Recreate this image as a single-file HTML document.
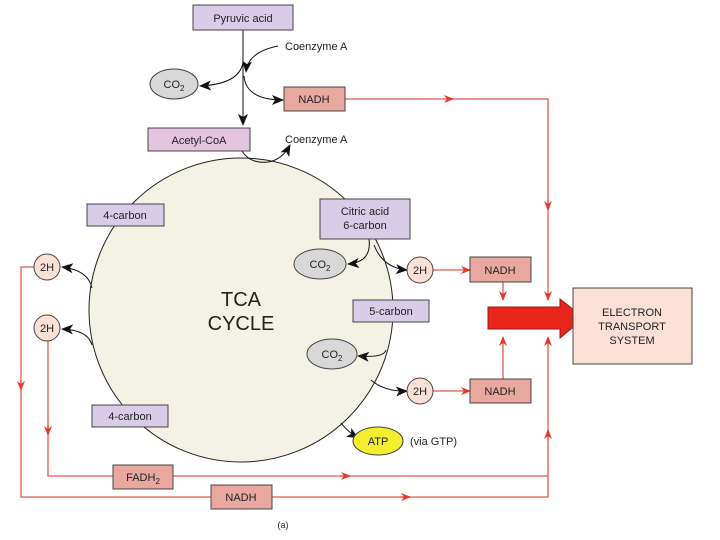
<!DOCTYPE html>
<html><head><style>body{margin:0;background:#fff}svg{display:block}text{font-family:"Liberation Sans",sans-serif;font-size:11px;fill:#222}</style></head><body>
<svg width="720" height="540" viewBox="0 0 720 540" xmlns="http://www.w3.org/2000/svg">
<defs>
<marker id="r" markerWidth="10" markerHeight="8" refX="9" refY="4" orient="auto" markerUnits="userSpaceOnUse"><path d="M0,0 L10,4 L0,8 L3,4z" fill="#e23a2a"/></marker>
<marker id="b" markerWidth="12" markerHeight="10" refX="11" refY="5" orient="auto" markerUnits="userSpaceOnUse"><path d="M0,0 L12,5 L0,10 L3,5z" fill="#111"/></marker>
</defs>
<circle cx="241" cy="310" r="152" fill="#f4f2e4" stroke="#222" stroke-width="1"/>
<text x="241" y="306" text-anchor="middle" style="font-size:20px">TCA</text>
<text x="241" y="330" text-anchor="middle" style="font-size:20px">CYCLE</text>
<g stroke="#e05a4a" stroke-width="1.3" fill="none">
<path d="M345,99 H548 V300"/>
<path d="M452,99 h1" marker-end="url(#r)"/>
<path d="M548,200 v10" marker-end="url(#r)"/>
<path d="M548,295 v5" marker-end="url(#r)"/>
<path d="M34,267 H21 V497 H548 V340"/>
<path d="M21,380 v10" marker-end="url(#r)"/>
<path d="M400,497 h10" marker-end="url(#r)"/>
<path d="M548,440 v-10" marker-end="url(#r)"/>
<path d="M548,345 v-8" marker-end="url(#r)"/>
<path d="M48,341 V476 H548"/>
<path d="M48,425 v10" marker-end="url(#r)"/>
<path d="M340,476 h10" marker-end="url(#r)"/>
<path d="M433,270 H470" marker-end="url(#r)"/>
<path d="M433,391 H470" marker-end="url(#r)"/>
<path d="M503,282 V300" marker-end="url(#r)"/>
<path d="M503,379 V337" marker-end="url(#r)"/>
</g>
<path d="M488,307 H560 V299 L584,318 L560,338 V329 H488z" fill="#e8261c" stroke="#a01810" stroke-width="1"/>
<rect x="573" y="288" width="119" height="76" fill="#fbe0d6" stroke="#444"/>
<text x="632" y="316" text-anchor="middle">ELECTRON</text>
<text x="632" y="330" text-anchor="middle">TRANSPORT</text>
<text x="632" y="344" text-anchor="middle">SYSTEM</text>
<g stroke="#111" stroke-width="1" fill="none">
<path d="M243,30 V125" marker-end="url(#b)"/>
<path d="M278,46 Q248,52 246,72" marker-end="url(#b)"/>
<path d="M243,62 Q240,84 200,86" marker-end="url(#b)"/>
<path d="M244,76 Q246,100 283,100" marker-end="url(#b)"/>
<path d="M242,151 Q250,164 268,162 Q282,160 290,145" marker-end="url(#b)"/>
<path d="M369,239 Q372,262 348,264" marker-end="url(#b)"/>
<path d="M374,245 Q383,268 407,270" marker-end="url(#b)"/>
<path d="M386,350 Q384,358 358,356" marker-end="url(#b)"/>
<path d="M371,380 Q385,392 407,391" marker-end="url(#b)"/>
<path d="M341,423 Q348,432 358,438" marker-end="url(#b)"/>
<path d="M92,288 Q88,270 62,267" marker-end="url(#b)"/>
<path d="M92,345 Q88,330 62,329" marker-end="url(#b)"/>
</g>
<g stroke="#444" stroke-width="1">
<rect x="193" y="5" width="100" height="25" fill="#d8cce8"/>
<rect x="148" y="128" width="102" height="23" fill="#e4c4de"/>
<rect x="284" y="87" width="61" height="24" fill="#e8a8a0"/>
<rect x="87" y="204" width="77" height="22" fill="#d8cce8"/>
<rect x="320" y="199" width="90" height="40" fill="#d8cce8"/>
<rect x="353" y="300" width="76" height="22" fill="#d8cce8"/>
<rect x="92" y="405" width="76" height="22" fill="#d8cce8"/>
<rect x="470" y="257" width="61" height="25" fill="#e8a8a0"/>
<rect x="470" y="379" width="61" height="24" fill="#e8a8a0"/>
<rect x="113" y="465" width="60" height="24" fill="#e8a8a0"/>
<rect x="211" y="485" width="61" height="24" fill="#e8a8a0"/>
<ellipse cx="174" cy="84" rx="24" ry="15" fill="#d8d8d8"/>
<ellipse cx="320" cy="264" rx="26" ry="15" fill="#d8d8d8"/>
<ellipse cx="332" cy="354" rx="25" ry="15" fill="#d8d8d8"/>
<ellipse cx="378" cy="441" rx="25" ry="14" fill="#f4ee30"/>
<circle cx="420" cy="270" r="13" fill="#fbe0d6"/>
<circle cx="420" cy="391" r="13" fill="#fbe0d6"/>
<circle cx="47" cy="267" r="13" fill="#fbe0d6"/>
<circle cx="47" cy="328" r="13" fill="#fbe0d6"/>
</g>
<text x="243" y="22" text-anchor="middle">Pyruvic acid</text>
<text x="285" y="50">Coenzyme A</text>
<text x="285" y="143">Coenzyme A</text>
<text x="199" y="144" text-anchor="middle">Acetyl-CoA</text>
<text x="314" y="103" text-anchor="middle">NADH</text>
<text x="174" y="88" text-anchor="middle">CO<tspan style="font-size:8px" dy="3">2</tspan></text>
<text x="320" y="268" text-anchor="middle">CO<tspan style="font-size:8px" dy="3">2</tspan></text>
<text x="332" y="358" text-anchor="middle">CO<tspan style="font-size:8px" dy="3">2</tspan></text>
<text x="378" y="445" text-anchor="middle">ATP</text>
<text x="410" y="445">(via GTP)</text>
<text x="125" y="219" text-anchor="middle">4-carbon</text>
<text x="130" y="420" text-anchor="middle">4-carbon</text>
<text x="365" y="215" text-anchor="middle">Citric acid</text>
<text x="365" y="229" text-anchor="middle">6-carbon</text>
<text x="391" y="315" text-anchor="middle">5-carbon</text>
<text x="500" y="274" text-anchor="middle">NADH</text>
<text x="500" y="395" text-anchor="middle">NADH</text>
<text x="241" y="501" text-anchor="middle">NADH</text>
<text x="143" y="481" text-anchor="middle">FADH<tspan style="font-size:8px" dy="3">2</tspan></text>
<text x="420" y="274" text-anchor="middle">2H</text>
<text x="420" y="395" text-anchor="middle">2H</text>
<text x="47" y="271" text-anchor="middle">2H</text>
<text x="47" y="332" text-anchor="middle">2H</text>
<text x="283" y="528" text-anchor="middle" style="font-size:9px">(a)</text>
</svg>
</body></html>
